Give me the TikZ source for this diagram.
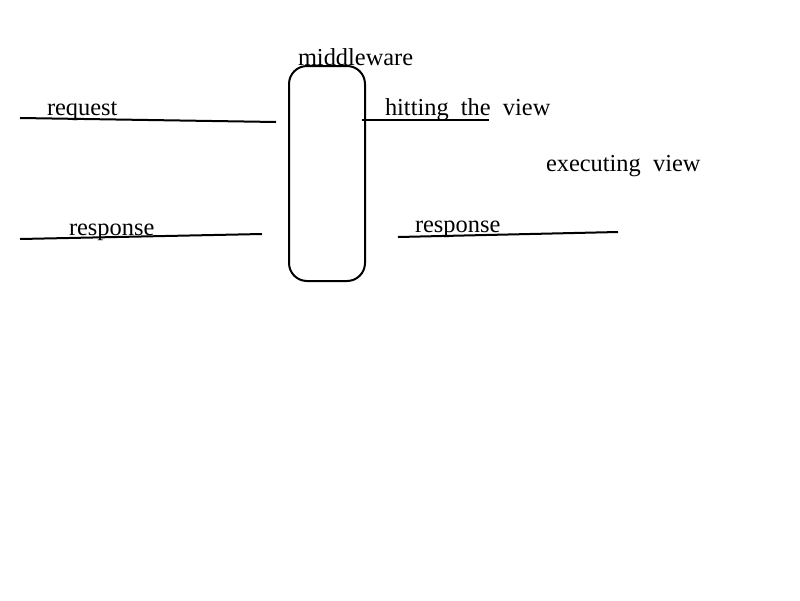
\documentclass[tikz,border=0pt]{standalone}
\usepackage{fontspec}
\setmainfont{Liberation Serif}
\begin{document}
\begin{tikzpicture}[x=1pt,y=-1pt,
  lbl/.style={anchor=base west,inner sep=0pt,outer sep=0pt,font=\fontsize{24.4}{28}\selectfont},
  wire/.style={line width=2pt},
  box/.style={line width=2pt,rounded corners=18pt}]
\useasboundingbox[fill=white] (0,0) rectangle (800,600);
\draw[box] (289,66) rectangle (365,281);
\node[lbl] (mw) at (298,65) {middleware};
\node[lbl] (req) at (47,115) {request};
\node[lbl] (hit) at (385,115) {hitting\hspace{0.5em}the\hspace{0.5em}view};
\node[lbl] (exe) at (546,171) {executing\hspace{0.5em}view};
\node[lbl] (resl) at (69,235) {response};
\node[lbl] (resr) at (415,232) {response};
\coordinate (a1) at (20,118); \coordinate (a2) at (276,122);
\coordinate (b1) at (20,239); \coordinate (b2) at (262,234);
\coordinate (c1) at (362,120); \coordinate (c2) at (489,120);
\coordinate (d1) at (398,237); \coordinate (d2) at (618,232);
\draw[wire] (a1) -- (a2);
\draw[wire] (b1) -- (b2);
\draw[wire] (c1) -- (c2);
\draw[wire] (d1) -- (d2);
\end{tikzpicture}
\end{document}
